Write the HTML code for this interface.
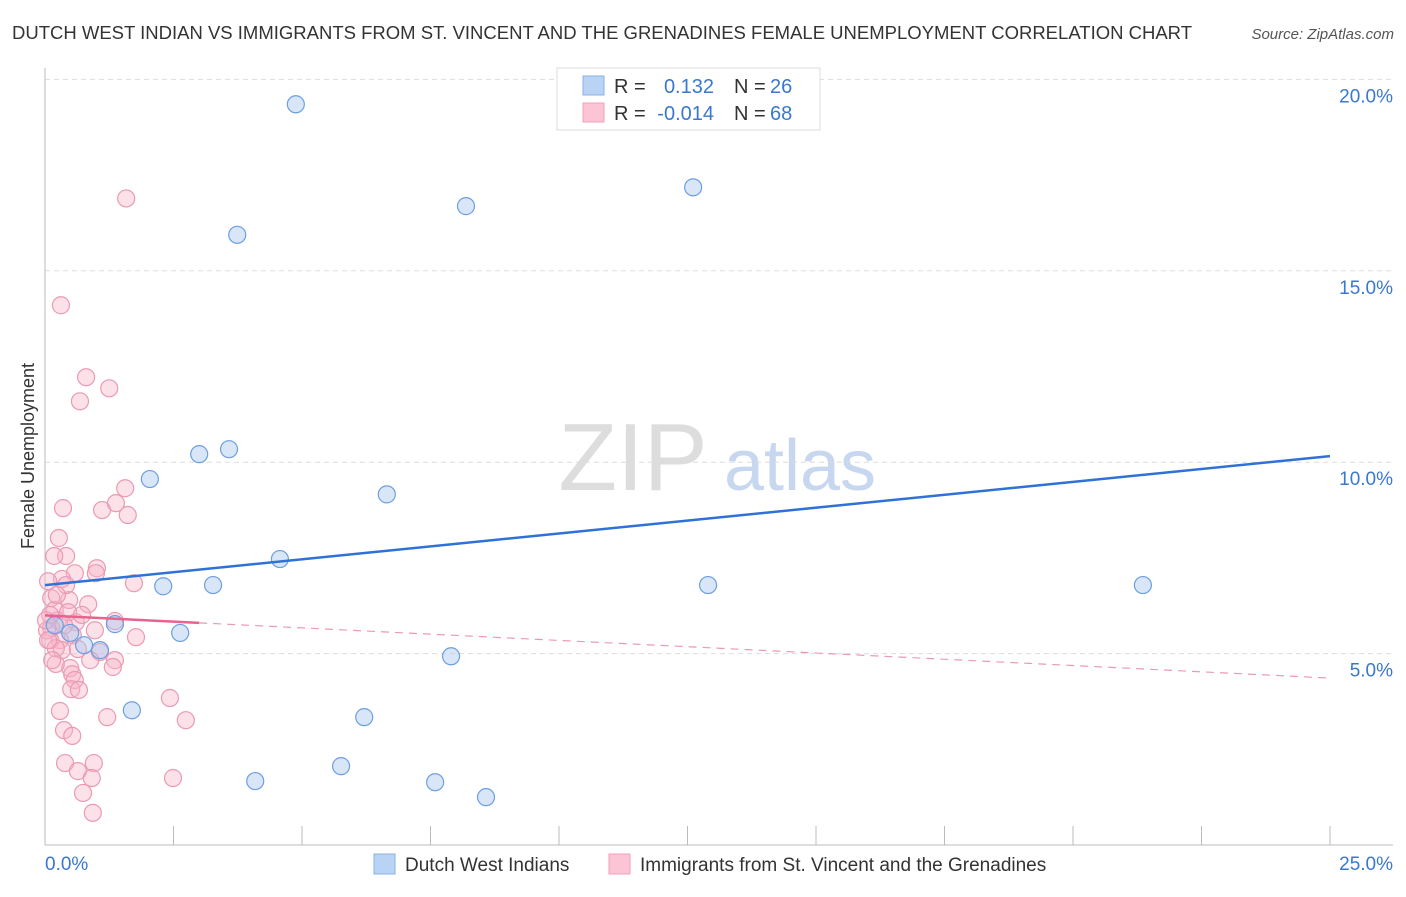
<!DOCTYPE html>
<html><head><meta charset="utf-8"><style>
body{margin:0;background:#fff;font-family:"Liberation Sans",sans-serif;}
svg text{font-family:"Liberation Sans",sans-serif;}
</style></head><body>
<svg id="chart" width="1406" height="892" viewBox="0 0 1406 892">
<text x="12" y="39" font-size="18" fill="#333" textLength="1180" lengthAdjust="spacingAndGlyphs">DUTCH WEST INDIAN VS IMMIGRANTS FROM ST. VINCENT AND THE GRENADINES FEMALE UNEMPLOYMENT CORRELATION CHART</text>
<text x="1394" y="39" font-size="15" fill="#555" font-style="italic" text-anchor="end">Source: ZipAtlas.com</text>
<text transform="translate(34,456) rotate(-90)" font-size="18" fill="#333" text-anchor="middle">Female Unemployment</text>
<g>
<text x="633" y="490" font-size="96" font-family="Liberation Serif" fill="#ddd" text-anchor="middle">ZIP</text>
<text x="800" y="490" font-size="72" fill="#c7d7ef" text-anchor="middle">atlas</text>
</g>
<g id="grid"></g><g id="axes"></g><g id="marks"></g>
<g>
<rect x="557" y="68" width="263" height="62" fill="#fff" stroke="#ddd"/>
<rect x="583" y="76" width="21" height="19" fill="#b9d3f5" stroke="#8ab0e8"/>
<rect x="583" y="103" width="21" height="19" fill="#fbc5d5" stroke="#f0a0b8"/>
<text x="614" y="93" font-size="20" fill="#333">R =</text>
<text x="714" y="93" font-size="20" fill="#3a78d0" text-anchor="end">0.132</text>
<text x="734" y="93" font-size="20" fill="#333">N =</text>
<text x="770" y="93" font-size="20" fill="#3a78d0">26</text>
<text x="614" y="120" font-size="20" fill="#333">R =</text>
<text x="714" y="120" font-size="20" fill="#3a78d0" text-anchor="end">-0.014</text>
<text x="734" y="120" font-size="20" fill="#333">N =</text>
<text x="770" y="120" font-size="20" fill="#3a78d0">68</text>
</g>
<g>
<rect x="374" y="854" width="21" height="20" fill="#b9d3f5" stroke="#8ab0e8"/>
<text x="405" y="871" font-size="19" fill="#333">Dutch West Indians</text></g>
<g>
<rect x="609" y="854" width="21" height="20" fill="#fbc5d5" stroke="#f0a0b8"/>
<text x="640" y="871" font-size="19" fill="#333">Immigrants from St. Vincent and the Grenadines</text></g>
</svg>
<script>
const yTicks=[5,10,15,20];
const yTickLabels=["5.0%","10.0%","15.0%","20.0%"];
const blueX=[4.88,3.74,8.19,12.61,3.58,3.00,2.04,6.65,4.57,2.30,3.27,12.90,21.36,1.36,2.63,1.07,0.76,7.90,1.69,6.21,4.09,5.76,7.59,8.58,0.19,0.49];
const blueY=[19.35,15.94,16.69,17.18,10.34,10.21,9.56,9.16,7.47,6.76,6.79,6.79,6.79,5.77,5.54,5.09,5.22,4.93,3.52,3.34,1.67,2.06,1.64,1.25,5.74,5.54];
const pinkX=[1.58,0.31,0.80,1.25,0.68,1.56,0.35,1.11,1.38,1.61,0.27,0.41,0.18,1.01,0.99,0.58,0.33,0.06,1.73,0.47,0.84,0.12,0.19,0.25,0.60,1.36,0.12,0.54,0.97,1.77,0.29,0.10,0.33,1.07,1.36,1.32,0.49,0.21,0.53,0.58,0.51,0.66,2.43,1.21,2.74,0.29,0.37,0.53,0.95,0.39,0.64,0.91,0.74,0.93,2.49,0.21,0.04,0.10,0.41,0.64,0.14,0.88,0.23,0.45,0.02,0.06,0.37,0.72];
const pinkY=[16.89,14.10,12.22,11.93,11.59,9.32,8.80,8.75,8.93,8.62,8.02,7.55,7.55,7.23,7.10,7.10,6.95,6.89,6.84,6.40,6.29,6.45,6.14,5.87,5.82,5.85,5.67,5.48,5.61,5.43,5.35,5.35,5.09,5.04,4.83,4.65,4.62,4.73,4.46,4.31,4.07,4.05,3.84,3.34,3.26,3.50,3.00,2.85,2.14,2.14,1.93,1.75,1.36,0.84,1.75,5.14,5.61,6.01,6.79,5.12,4.83,4.83,6.53,6.08,5.87,5.35,5.74,6.01];
const blueTrend=[6.79,10.16];
const pinkTrend=[6.0,4.36];
const pinkSolidEnd=3.0;
const xMax=25;
const X=v=>45+v/xMax*1285, Y=v=>845-v*38.28;
const NS="http://www.w3.org/2000/svg";
function mk(parent,tag,attrs){const e=document.createElementNS(NS,tag);for(const k in attrs)e.setAttribute(k,attrs[k]);document.getElementById(parent).appendChild(e);return e;}
yTicks.forEach((t,i)=>{
 const g=mk('grid','line',{x1:45,x2:1393,y1:Y(t),y2:Y(t),stroke:'#ddd','stroke-dasharray':'5,4'});
 
 
 const l=mk('axes','text',{x:1393,y:Y(t)+23,'font-size':19,fill:'#3a78d0','text-anchor':'end'});
 l.textContent=yTickLabels[i];
 
 
});
const ax=mk('axes','line',{x1:45,x2:1393,y1:845,y2:845,stroke:'#bbb'});


const ay=mk('axes','line',{x1:45,x2:45,y1:68,y2:845,stroke:'#bbb'});


for(let i=1;i<=10;i++){const t=mk('axes','line',{x1:X(i*2.5),x2:X(i*2.5),y1:826,y2:845,stroke:'#bbb'});
 
 }
const x0=mk('axes','text',{x:45,y:870,'font-size':19,fill:'#3a78d0'});x0.textContent='0.0%';


const x1=mk('axes','text',{x:1393,y:870,'font-size':19,fill:'#3a78d0','text-anchor':'end'});x1.textContent='25.0%';


pinkX.forEach((v,i)=>{const c=mk('marks','circle',{cx:X(v),cy:Y(pinkY[i]),r:8.5,fill:'rgba(248,180,200,0.4)',stroke:'#eb9ab3','stroke-width':1.2});
 
 });
blueX.forEach((v,i)=>{const c=mk('marks','circle',{cx:X(v),cy:Y(blueY[i]),r:8.5,fill:'rgba(170,200,240,0.45)',stroke:'#6d9fe0','stroke-width':1.2});
 
 });
const bt=mk('marks','line',{x1:X(0),y1:Y(blueTrend[0]),x2:X(xMax),y2:Y(blueTrend[1]),stroke:'#2f72d6','stroke-width':2.5});


const pAt=v=>pinkTrend[0]+(pinkTrend[1]-pinkTrend[0])*v/xMax;
const pd=mk('marks','line',{x1:X(pinkSolidEnd),y1:Y(pAt(pinkSolidEnd)),x2:X(xMax),y2:Y(pinkTrend[1]),stroke:'#eb9ab3','stroke-width':1.2,'stroke-dasharray':'8,6'});


const ps=mk('marks','line',{x1:X(0),y1:Y(pinkTrend[0]),x2:X(pinkSolidEnd),y2:Y(pAt(pinkSolidEnd)),stroke:'#e8638e','stroke-width':2.5});


</script>
</body></html>
